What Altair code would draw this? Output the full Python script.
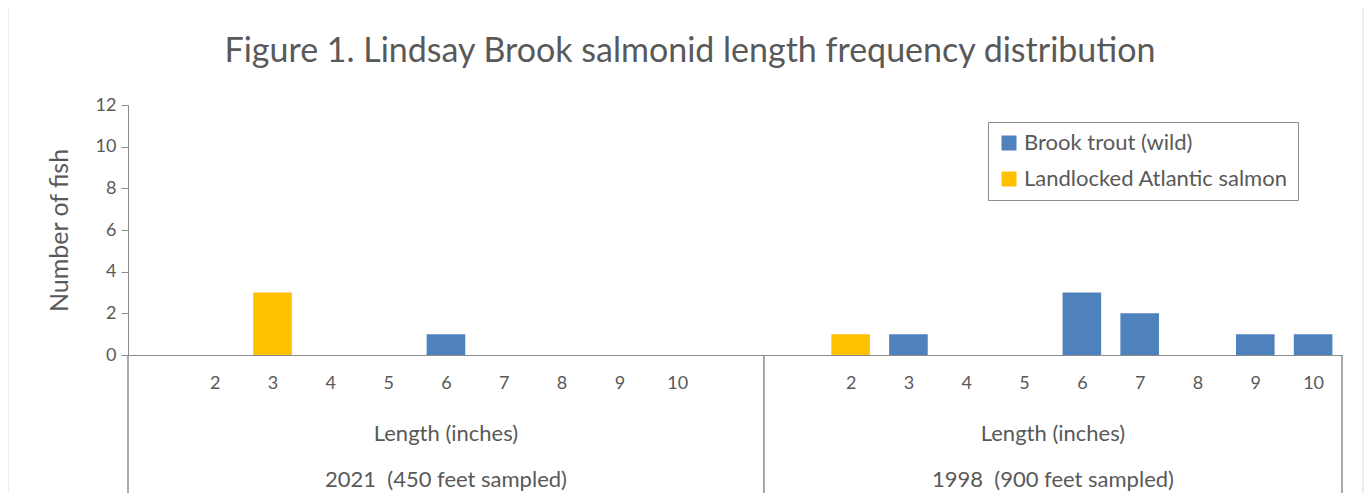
import altair as alt
import pandas as pd

# ---- data ----
lengths = [2, 3, 4, 5, 6, 7, 8, 9, 10]
groups = ["2021 \u00a0(450 feet sampled)", "1998 \u00a0(900 feet sampled)"]
group_first_slot = [0, 11]          # slot where each group starts (slot 0 of each group is blank)
group_last_slot = [11, 21]          # boundary after each group
species = ["Brook trout (wild)", "Landlocked Atlantic salmon"]
brook_2021 = [0, 0, 0, 0, 1, 0, 0, 0, 0]
salmon_2021 = [0, 3, 0, 0, 0, 0, 0, 0, 0]
brook_1998 = [0, 1, 0, 0, 3, 2, 0, 1, 1]
salmon_1998 = [1, 0, 0, 0, 0, 0, 0, 0, 0]
axis_title = "Length (inches)"
title = "Figure 1. Lindsay Brook salmonid length frequency distribution"
colors = ["#4F81BD", "#FFC000"]

FONT = "Lato"
TXT = "#595959"
AX = "#8C8C8C"

rows = []
for gi, (g, series) in enumerate(zip(groups, [(brook_2021, salmon_2021), (brook_1998, salmon_1998)])):
    for si, vals in enumerate(series):
        for L, v in zip(lengths, vals):
            if v > 0:
                rows.append({"group": g, "species": species[si], "length": L,
                             "pos": group_first_slot[gi] + (L - 1) + 0.5, "count": v})
bars_df = pd.DataFrame(rows)

tick_lab = {}
for gi in range(2):
    for L in lengths:
        tick_lab[group_first_slot[gi] + (L - 1) + 0.5] = str(L)
tick_pos = list(tick_lab.keys())
label_expr = " : ".join(
    [f"datum.value == {p} ? '{l}'" for p, l in tick_lab.items()]) + " : ''"

grp_df = pd.DataFrame({
    "group": groups,
    "center": [(group_first_slot[i] + group_last_slot[i]) / 2 for i in range(2)],
    "axis_title": [axis_title, axis_title],
})
sep_df = pd.DataFrame({"x": [0, 11, 21]})
title_df = pd.DataFrame({"t": [title]})

W, H = 1214, 250
PL, PT, PR, PB = 120, 97, 22, 138

xscale = alt.Scale(domain=[0, 21], nice=False, zero=False, padding=0)
yscale = alt.Scale(domain=[0, 12], nice=False)

bars = alt.Chart(bars_df).mark_bar(width=38.6).encode(
    x=alt.X("pos:Q", scale=xscale,
            axis=alt.Axis(values=tick_pos, labelExpr=label_expr, title=None, ticks=False,
                          grid=False, domainColor=AX, labelFont=FONT, labelFontSize=18,
                          labelColor=TXT, labelPadding=19)),
    y=alt.Y("count:Q", scale=yscale,
            axis=alt.Axis(values=[0, 2, 4, 6, 8, 10, 12], title="Number of fish", grid=False,
                          domainColor=AX, tickColor=AX, tickSize=7, labelFont=FONT,
                          labelFontSize=18, labelColor=TXT, labelPadding=5,
                          titleFont=FONT, titleFontSize=25, titleColor=TXT,
                          titleFontWeight="normal", titlePadding=23)),
    color=alt.Color("species:N", scale=alt.Scale(domain=species, range=colors),
                    legend=alt.Legend(title=None, orient="none", legendX=860, legendY=17,
                                      symbolType="square", symbolSize=225, symbolStrokeWidth=0,
                                      labelFont=FONT, labelFontSize=22, labelColor=TXT,
                                      labelLimit=400, rowPadding=14, padding=10,
                                      strokeColor=AX, fillColor="white")),
)

seps = alt.Chart(sep_df).mark_rule(color=AX, strokeWidth=1.5).encode(
    x=alt.X("x:Q", scale=xscale),
    y=alt.value(H), y2=alt.value(H + 138),
)

len_txt = alt.Chart(grp_df).mark_text(font=FONT, fontSize=22, color=TXT, baseline="middle").encode(
    x=alt.X("center:Q", scale=xscale), y=alt.value(H + 79), text="axis_title:N")
grp_txt = alt.Chart(grp_df).mark_text(font=FONT, fontSize=22, color=TXT, baseline="middle").encode(
    x=alt.X("center:Q", scale=xscale), y=alt.value(H + 125), text="group:N")

title_txt = alt.Chart(title_df).mark_text(font=FONT, fontSize=34, color=TXT,
                                          baseline="alphabetic", align="center").encode(
    x=alt.value(W / 2 - 45), y=alt.value(-43), text="t:N")

frame = alt.Chart(sep_df.head(1)).mark_rect(fill=None, stroke="#D9D9D9", strokeWidth=1).encode(
    x=alt.value(-PL), x2=alt.value(W + PR - 1), y=alt.value(-PT - 1), y2=alt.value(H + PB + 5))

chart = alt.layer(frame, title_txt, bars, seps, len_txt, grp_txt).properties(
    width=W, height=H,
    autosize=alt.AutoSizeParams(type="none"),
    padding={"left": PL, "top": PT, "right": PR, "bottom": PB},
).configure_view(stroke=None)

chart.save("out.html", embed_options={"renderer": "svg", "actions": False})
